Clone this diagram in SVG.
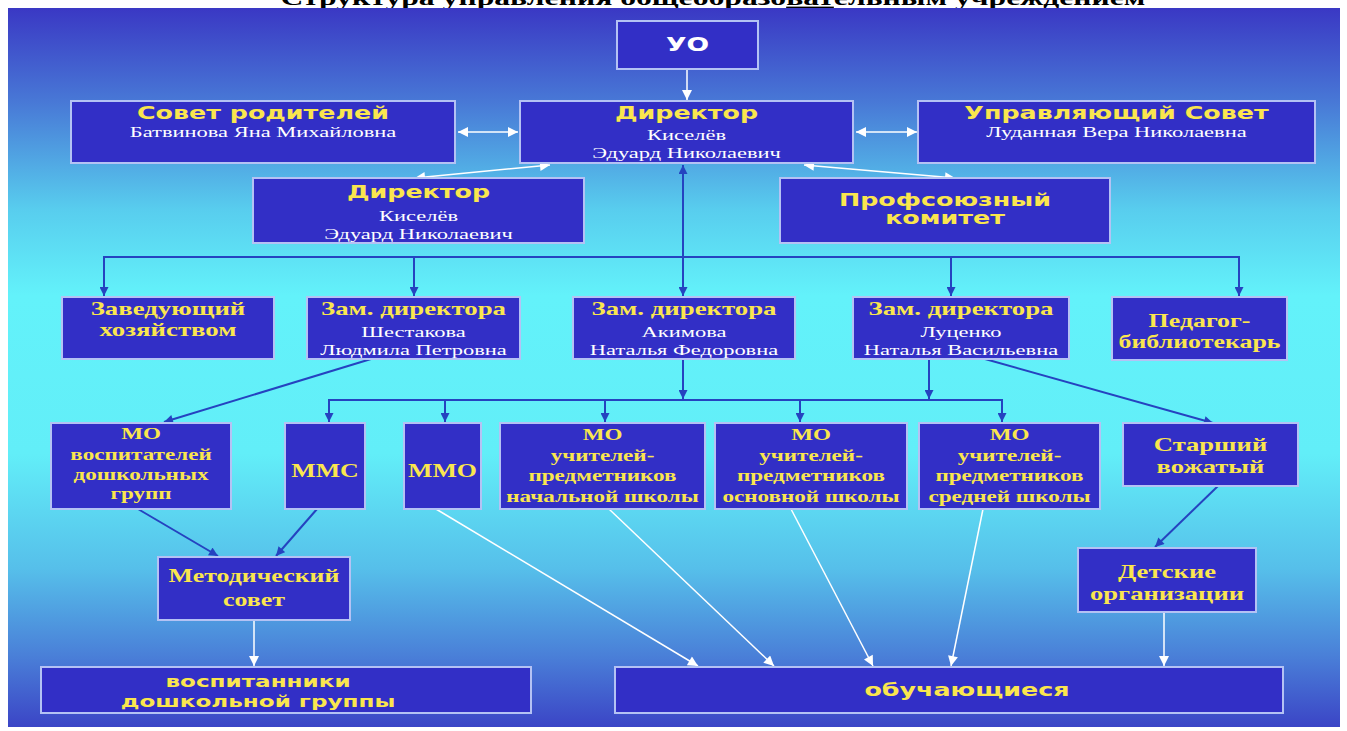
<svg xmlns="http://www.w3.org/2000/svg" width="1347" height="731" viewBox="0 0 1347 731">
<defs>
<linearGradient id="bg" x1="0" y1="0" x2="0" y2="1">
<stop offset="0" stop-color="#3a38c4"/>
<stop offset="0.13" stop-color="#4878d6"/>
<stop offset="0.28" stop-color="#58cdee"/>
<stop offset="0.4" stop-color="#63f2fa"/>
<stop offset="0.62" stop-color="#62eef8"/>
<stop offset="0.78" stop-color="#56bfea"/>
<stop offset="0.9" stop-color="#4a80d8"/>
<stop offset="1" stop-color="#3b45c6"/>
</linearGradient>
<marker id="ab" viewBox="0 0 10 10" refX="10" refY="5" markerWidth="10" markerHeight="9" markerUnits="userSpaceOnUse" orient="auto-start-reverse"><path d="M0,0 L10,5 L0,10 z" fill="#2543c0"/></marker>
<marker id="aw" viewBox="0 0 10 10" refX="10" refY="5" markerWidth="12" markerHeight="10" markerUnits="userSpaceOnUse" orient="auto-start-reverse"><path d="M0,0 L10,5 L0,10 z" fill="#ffffff"/></marker>
</defs>
<style>
.box{fill:#322fc6;stroke:#b4c2f4;stroke-width:2}
.h{font-family:"DejaVu Sans",Verdana,sans-serif;font-weight:bold;fill:#fae64e;font-size:17.5px;text-anchor:middle}
.s{font-family:"Liberation Serif","Times New Roman",serif;font-weight:bold;fill:#fae64e;font-size:18.5px;text-anchor:middle}
.n{font-family:"Liberation Serif","Times New Roman",serif;fill:#ffffff;font-size:15.5px;text-anchor:middle}
.wl{stroke:#ffffff;stroke-width:1.5;fill:none}
.bl{stroke:#2543c0;stroke-width:2;fill:none}
</style>
<rect x="0" y="0" width="1347" height="731" fill="#ffffff"/>
<text x="0" y="0" transform="translate(713 5) scale(1.44 1)" style="font-family:'Liberation Serif','Times New Roman',serif;font-weight:bold;font-size:22px;text-anchor:middle;fill:#000">Структура управления общеобразо<tspan style="text-decoration:underline">ват</tspan>ельным учреждением</text>
<rect x="8" y="8" width="1332" height="719" fill="url(#bg)"/>

<g id="connectors">
<line class="wl" x1="687" y1="69" x2="687" y2="100" marker-end="url(#aw)"/>
<line class="wl" x1="458" y1="132" x2="518" y2="132" marker-start="url(#aw)" marker-end="url(#aw)"/>
<line class="wl" x1="856" y1="132" x2="917" y2="132" marker-start="url(#aw)" marker-end="url(#aw)"/>
<line class="wl" x1="550" y1="165" x2="415" y2="178" marker-start="url(#aw)" marker-end="url(#aw)"/>
<line class="wl" x1="804" y1="165" x2="955" y2="178" marker-start="url(#aw)" marker-end="url(#aw)"/>
<line class="bl" x1="683" y1="165" x2="683" y2="296" marker-start="url(#ab)" marker-end="url(#ab)"/>
<polyline class="bl" points="104,296 104,257 1239,257 1239,296" marker-start="url(#ab)" marker-end="url(#ab)"/>
<line class="bl" x1="414" y1="257" x2="414" y2="296" marker-end="url(#ab)"/>
<line class="bl" x1="951" y1="257" x2="951" y2="296" marker-end="url(#ab)"/>
<line class="bl" x1="683" y1="359" x2="683" y2="399" marker-end="url(#ab)"/>
<line class="bl" x1="929" y1="359" x2="929" y2="399" marker-end="url(#ab)"/>
<polyline class="bl" points="329,422 329,400 1002,400 1002,422" marker-start="url(#ab)" marker-end="url(#ab)"/>
<line class="bl" x1="445" y1="400" x2="445" y2="422" marker-end="url(#ab)"/>
<line class="bl" x1="605" y1="400" x2="605" y2="422" marker-end="url(#ab)"/>
<line class="bl" x1="800" y1="400" x2="800" y2="422" marker-end="url(#ab)"/>
<line class="bl" x1="371" y1="359" x2="164" y2="422" marker-end="url(#ab)"/>
<line class="bl" x1="985" y1="359" x2="1213" y2="423" marker-end="url(#ab)"/>
<line class="bl" x1="138" y1="509" x2="218" y2="556" marker-end="url(#ab)"/>
<line class="bl" x1="317" y1="509" x2="276" y2="556" marker-end="url(#ab)"/>
<line class="bl" x1="1218" y1="486" x2="1155" y2="547" marker-end="url(#ab)"/>
<line class="wl" x1="254" y1="620" x2="254" y2="666" marker-end="url(#aw)"/>
<line class="wl" x1="436" y1="509" x2="698" y2="666" marker-end="url(#aw)"/>
<line class="wl" x1="609" y1="509" x2="774" y2="666" marker-end="url(#aw)"/>
<line class="wl" x1="791" y1="509" x2="873" y2="666" marker-end="url(#aw)"/>
<line class="wl" x1="983" y1="509" x2="951" y2="666" marker-end="url(#aw)"/>
<line class="wl" x1="1164" y1="612" x2="1164" y2="666" marker-end="url(#aw)"/>
</g>

<g id="uo">
<rect class="box" x="617" y="21" width="141" height="48"/>
<text transform="translate(687.5 51) scale(1.4 1)" style="font-family:'DejaVu Sans',Verdana,sans-serif;font-weight:bold;font-size:19px;fill:#fff;text-anchor:middle">УО</text>
</g>

<g id="sovet-roditeley">
<rect class="box" x="71" y="101" width="384" height="62"/>
<text class="h" transform="translate(263 119) scale(1.45 1)">Совет родителей</text>
<text class="n" transform="translate(263 137) scale(1.45 1)">Батвинова Яна Михайловна</text>
</g>

<g id="direktor">
<rect class="box" x="520" y="101" width="333" height="62"/>
<text class="h" transform="translate(686.5 119) scale(1.45 1)">Директор</text>
<text class="n" transform="translate(686.5 140) scale(1.45 1)">Киселёв</text>
<text class="n" transform="translate(686.5 158) scale(1.45 1)">Эдуард Николаевич</text>
</g>

<g id="upravl-sovet">
<rect class="box" x="918" y="101" width="397" height="62"/>
<text class="h" transform="translate(1116.5 119) scale(1.45 1)">Управляющий Совет</text>
<text class="n" transform="translate(1116.5 137) scale(1.45 1)">Луданная Вера Николаевна</text>
</g>

<g id="direktor2">
<rect class="box" x="253" y="178" width="331" height="65"/>
<text class="h" transform="translate(418.5 198) scale(1.45 1)">Директор</text>
<text class="n" transform="translate(418.5 221) scale(1.45 1)">Киселёв</text>
<text class="n" transform="translate(418.5 239) scale(1.45 1)">Эдуард Николаевич</text>
</g>

<g id="profkom">
<rect class="box" x="780" y="178" width="330" height="65"/>
<text class="h" transform="translate(945 206) scale(1.45 1)">Профсоюзный</text>
<text class="h" transform="translate(945 224) scale(1.45 1)">комитет</text>
</g>

<g id="zavhoz">
<rect class="box" x="62" y="297" width="212" height="62"/>
<text class="s" transform="translate(168 315) scale(1.45 1)">Заведующий</text>
<text class="s" transform="translate(168 336) scale(1.45 1)">хозяйством</text>
</g>

<g id="zam-shestakova">
<rect class="box" x="307" y="297" width="213" height="62"/>
<text class="s" transform="translate(413.5 315) scale(1.45 1)">Зам. директора</text>
<text class="n" transform="translate(413.5 337) scale(1.45 1)">Шестакова</text>
<text class="n" transform="translate(413.5 355) scale(1.45 1)">Людмила Петровна</text>
</g>

<g id="zam-akimova">
<rect class="box" x="573" y="297" width="222" height="62"/>
<text class="s" transform="translate(684 315) scale(1.45 1)">Зам. директора</text>
<text class="n" transform="translate(684 337) scale(1.45 1)">Акимова</text>
<text class="n" transform="translate(684 355) scale(1.45 1)">Наталья Федоровна</text>
</g>

<g id="zam-lucenko">
<rect class="box" x="853" y="297" width="216" height="62"/>
<text class="s" transform="translate(961 315) scale(1.45 1)">Зам. директора</text>
<text class="n" transform="translate(961 337) scale(1.45 1)">Луценко</text>
<text class="n" transform="translate(961 355) scale(1.45 1)">Наталья Васильевна</text>
</g>

<g id="pedagog-bibl">
<rect class="box" x="1112" y="297" width="175" height="63"/>
<text class="s" transform="translate(1199.5 327) scale(1.4 1)">Педагог-</text>
<text class="s" transform="translate(1199.5 348) scale(1.4 1)">библиотекарь</text>
</g>

<g id="mo-vospit">
<rect class="box" x="51" y="423" width="180" height="86"/>
<text class="s" transform="translate(141 439) scale(1.4 1)" style="font-size:16.5px">МО</text>
<text class="s" transform="translate(141 460) scale(1.4 1)" style="font-size:16.5px">воспитателей</text>
<text class="s" transform="translate(141 480) scale(1.4 1)" style="font-size:16.5px">дошкольных</text>
<text class="s" transform="translate(141 499) scale(1.4 1)" style="font-size:16.5px">групп</text>
</g>

<g id="mms">
<rect class="box" x="285" y="423" width="80" height="86"/>
<text class="s" transform="translate(325 477) scale(1.4 1)">ММС</text>
</g>

<g id="mmo">
<rect class="box" x="404" y="423" width="77" height="86"/>
<text class="s" transform="translate(442.5 477) scale(1.4 1)">ММО</text>
</g>

<g id="mo-nach">
<rect class="box" x="500" y="423" width="205" height="86"/>
<text class="s" transform="translate(602.5 440) scale(1.4 1)" style="font-size:16.5px">МО</text>
<text class="s" transform="translate(602.5 461) scale(1.4 1)" style="font-size:16.5px">учителей-</text>
<text class="s" transform="translate(602.5 481) scale(1.4 1)" style="font-size:16.5px">предметников</text>
<text class="s" transform="translate(602.5 502) scale(1.4 1)" style="font-size:16.5px">начальной школы</text>
</g>

<g id="mo-osn">
<rect class="box" x="715" y="423" width="192" height="86"/>
<text class="s" transform="translate(811 440) scale(1.4 1)" style="font-size:16.5px">МО</text>
<text class="s" transform="translate(811 461) scale(1.4 1)" style="font-size:16.5px">учителей-</text>
<text class="s" transform="translate(811 481) scale(1.4 1)" style="font-size:16.5px">предметников</text>
<text class="s" transform="translate(811 502) scale(1.4 1)" style="font-size:16.5px">основной школы</text>
</g>

<g id="mo-sred">
<rect class="box" x="919" y="423" width="181" height="86"/>
<text class="s" transform="translate(1009.5 440) scale(1.4 1)" style="font-size:16.5px">МО</text>
<text class="s" transform="translate(1009.5 461) scale(1.4 1)" style="font-size:16.5px">учителей-</text>
<text class="s" transform="translate(1009.5 481) scale(1.4 1)" style="font-size:16.5px">предметников</text>
<text class="s" transform="translate(1009.5 502) scale(1.4 1)" style="font-size:16.5px">средней школы</text>
</g>

<g id="starshiy-vozh">
<rect class="box" x="1123" y="423" width="175" height="63"/>
<text class="s" transform="translate(1210.5 451) scale(1.4 1)" style="font-size:19px">Старший</text>
<text class="s" transform="translate(1210.5 473) scale(1.4 1)" style="font-size:19px">вожатый</text>
</g>

<g id="metod-sovet">
<rect class="box" x="158" y="557" width="192" height="63"/>
<text class="s" transform="translate(254 582) scale(1.4 1)">Методический</text>
<text class="s" transform="translate(254 606) scale(1.4 1)">совет</text>
</g>

<g id="detskie-org">
<rect class="box" x="1078" y="548" width="178" height="64"/>
<text class="s" transform="translate(1167 578) scale(1.4 1)" style="font-size:19px">Детские</text>
<text class="s" transform="translate(1167 600) scale(1.4 1)" style="font-size:19px">организации</text>
</g>

<g id="vospitanniki">
<rect class="box" x="41" y="667" width="490" height="46"/>
<text class="h" transform="translate(258 687) scale(1.4 1)" style="font-size:16.5px">воспитанники</text>
<text class="h" transform="translate(258 707) scale(1.4 1)" style="font-size:16.5px">дошкольной группы</text>
</g>

<g id="obuchayushchiesya">
<rect class="box" x="615" y="667" width="668" height="46"/>
<text class="h" transform="translate(967 696) scale(1.45 1)">обучающиеся</text>
</g>
</svg>
